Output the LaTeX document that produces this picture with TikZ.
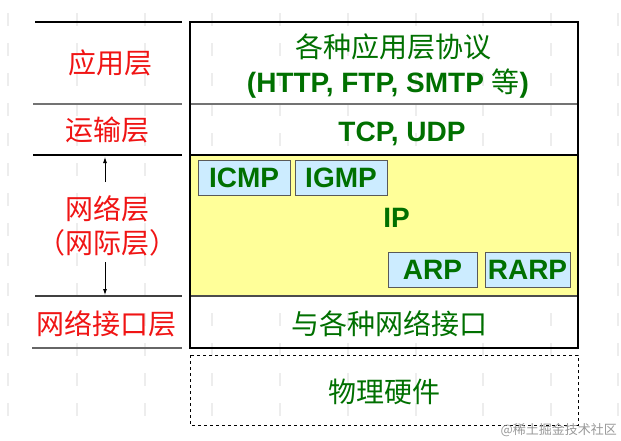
\documentclass[tikz,border=0pt]{standalone}
\usepackage{fontspec}
\setmainfont{Liberation Sans}
\newfontfamily\cjk{Noto Sans CJK SC}
\usetikzlibrary{arrows.meta,positioning}
\definecolor{proto}{HTML}{007000}
\definecolor{layer}{HTML}{F01414}
\definecolor{ipfill}{HTML}{FFFF99}
\definecolor{subfill}{HTML}{CCECFF}

\begin{document}
\begin{tikzpicture}[x=1pt,y=-1pt,
  lbl/.style={text=layer,anchor=base,inner sep=0pt,font=\cjk\fontsize{28}{30}\selectfont},
  prt/.style={text=proto,anchor=base,inner sep=0pt,font=\bfseries\fontsize{28}{30}\selectfont},
  prtcjk/.style={text=proto,anchor=base,inner sep=0pt,font=\cjk\fontsize{28}{30}\selectfont},
  subbox/.style={draw=black!65,fill=subfill,line width=1pt,inner sep=0pt,minimum height=35pt,text=proto,font=\bfseries\fontsize{28}{30}\selectfont},
  arr/.style={-{Latex[length=6pt,width=4pt]},line width=.8pt}]
\useasboundingbox (0,0) rectangle (621,440);
\fill[white] (0,0) rectangle (621,440);
\foreach \gx in {8,77,145,212,280,348,416,483,551,618}
  \draw[black!7,line width=2.5pt,dash pattern=on 13pt off 17pt] (\gx,13) -- (\gx,432);
\coordinate (tl) at (190,22);
\coordinate (br) at (578,348);
\fill[ipfill] (190,155) rectangle (578,296);
\draw[black!55,line width=1.5pt] (190,104) -- (578,104);
\draw[black,line width=1.2pt] (190,155) -- (578,155);
\draw[black!70,line width=1.5pt] (190,296) -- (578,296);
\draw[line width=2.5pt] (tl) rectangle (br);
\draw[dashed,line width=1pt] (190,355) rectangle (578,425);
\draw[line width=1.2pt] (35,22) -- (182,22);
\draw[black!55,line width=1.5pt] (33,104) -- (182,104);
\draw[line width=1.2pt] (33,155) -- (182,155);
\draw[black!75,line width=1.2pt] (35,296) -- (182,296);
\draw[black!60,line width=1.5pt] (32,348) -- (182,348);
\node[lbl] (app) at (110,73) {应用层};
\node[lbl] (trans) at (107,140) {运输层};
\node[lbl] (net) at (107,219) {网络层};
\node[lbl] (inet) at (107,253) {（网际层）};
\node[lbl] (link) at (106,334) {网络接口层};
\coordinate (upfrom) at (105,182);
\coordinate (upto) at (105,157);
\coordinate (dnfrom) at (105,262);
\coordinate (dnto) at (105,295);
\draw[arr] (upfrom) -- (upto);
\draw[arr] (dnfrom) -- (dnto);
\node[prtcjk] (apps) at (393,57) {各种应用层协议};
\node[prt] (appp) at (388,92) {(HTTP, FTP, SMTP {\cjk\mdseries 等})};
\node[prt] (tcp) at (402,141) {TCP, UDP};
\node[prt] (ip) at (396.5,227) {IP};
\node[subbox,minimum width=92pt] (icmp) at (244,177.5) {ICMP};
\node[subbox,minimum width=92pt] (igmp) at (341,177.5) {IGMP};
\node[subbox,minimum width=89pt] (arp) at (432.5,269.5) {ARP};
\node[subbox,minimum width=85pt] (rarp) at (527.5,269.5) {RARP};
\node[prtcjk] (nif) at (389,334) {与各种网络接口};
\node[prtcjk] (hw) at (384.5,402) {物理硬件};
\node[anchor=east,text=black!40,inner sep=0pt,font=\cjk\fontsize{13}{14}\selectfont] (mark) at (617,430) {@稀土掘金技术社区};
\end{tikzpicture}
\end{document}
